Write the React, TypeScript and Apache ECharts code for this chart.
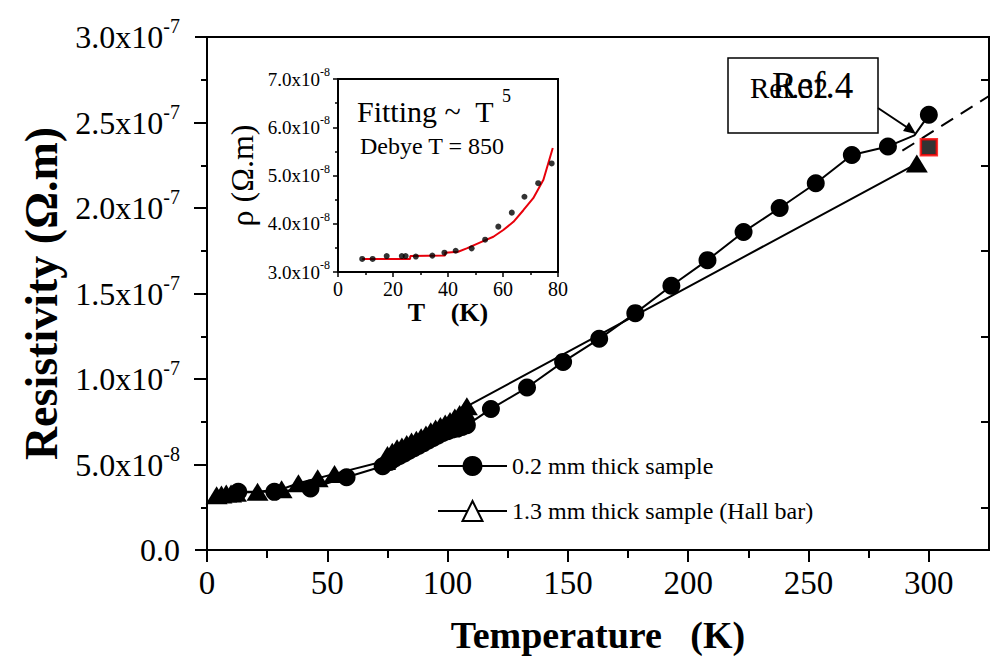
import React, { useEffect, useRef } from 'react';
import * as echarts from 'echarts';

const FONT = '"Liberation Serif", "Times New Roman", serif';

// ---- Main plot data (resistivity in units of 1e-8 Ω·m) ----
const thinName = '0.2 mm thick sample';
const thinT = [13, 28, 43, 58, 73, 76, 78, 80, 82, 84, 86, 88, 90, 92, 94, 96, 98, 100, 102, 104, 106, 108,
  118, 133, 148, 163, 178, 193, 208, 223, 238, 253, 268, 283, 294, 300];
const thinRho = [3.4, 3.4, 3.6, 4.25, 4.9, 5.15, 5.35, 5.5, 5.65, 5.8, 5.95, 6.1, 6.25, 6.4, 6.55, 6.7, 6.85, 6.95, 7.05, 7.1, 7.2, 7.3,
  8.25, 9.5, 11.0, 12.35, 13.85, 15.45, 16.95, 18.6, 20.0, 21.45, 23.1, 23.6, 24.25, 25.45];
const thinNoMarkerT = [294];

const hallName = '1.3 mm thick sample (Hall bar)';
const hallT = [4, 6, 8, 10, 12, 21, 31, 38, 46, 53, 74, 75, 77, 79, 81, 83, 85, 87, 89, 91, 93, 95, 97, 99, 101, 103, 105, 107, 108, 295];
const hallRho = [3.2, 3.25, 3.3, 3.3, 3.35, 3.4, 3.55, 3.9, 4.2, 4.45, 5.2, 5.55, 5.75, 5.95, 6.05, 6.2, 6.35, 6.45, 6.6, 6.75, 6.95, 7.1, 7.25, 7.4, 7.55, 7.75, 7.95, 8.15, 8.4, 22.6];

const refT = [300];
const refRho = [23.55];

const dashT = [289, 325];
const dashRho = [23.35, 26.55];

// ---- Inset data ----
const insetT = [8.8, 12.6, 17.7, 23.2, 24.6, 28.3, 34.3, 38.7, 42.8, 48.6, 53.5, 58.3, 63.2, 67.8, 72.8, 77.7];
const insetRho = [3.27, 3.27, 3.33, 3.33, 3.33, 3.32, 3.34, 3.4, 3.44, 3.49, 3.67, 3.94, 4.23, 4.56, 4.84, 5.25];
const fitT = [8.8, 26.2, 26.3, 38.9, 39.0, 43.7, 46.8, 52.8, 56.5, 60.1, 63.8, 67.4, 71.0, 74.7, 78.1];
const fitRho = [3.27, 3.27, 3.33, 3.34, 3.4, 3.42, 3.49, 3.64, 3.73, 3.87, 4.04, 4.28, 4.53, 4.91, 5.57];

// ---- Ticks ----
const mainXMajor = [0, 50, 100, 150, 200, 250, 300];
const mainXMinor = [25, 75, 125, 175, 225, 275];
const mainXTop = [25, 50, 75, 100, 125, 150, 175, 200, 225, 250, 275, 300];
const mainYMajor = [0, 5, 10, 15, 20, 25, 30];
const mainYMinor = [2.5, 7.5, 12.5, 17.5, 22.5, 27.5];
const mainYRightMajor = [5, 10, 15, 20, 25];
const insetXMajor = [0, 20, 40, 60, 80];
const insetXMinor = [10, 30, 50, 70];
const insetYMajor = [3, 4, 5, 6, 7];
const insetYMinor = [3.5, 4.5, 5.5, 6.5];

const sci = (v: number) => {
  if (Math.abs(v) < 1e-9) return '{m|0.0}';
  const [m, e] = (v * 1e-8).toExponential(1).split('e');
  return `{m|${m}x10}{s|${e.replace('+', '')}}`;
};

const BLACK = '#000';

function tickAxis(extra: any) {
  return {
    type: 'value',
    axisLine: { show: false },
    splitLine: { show: false },
    axisLabel: { show: false },
    ...extra,
  };
}

export default function App() {
  const ref = useRef<HTMLDivElement>(null);
  useEffect(() => {
    if (!ref.current) return;
    const chart = echarts.init(ref.current, undefined, { renderer: 'svg' });
    const thinData = thinT.map((t, i) =>
      thinNoMarkerT.includes(t) ? { value: [t, thinRho[i]], symbol: 'none' } : [t, thinRho[i]]
    );
    const option: any = {
      animation: false,
      backgroundColor: '#fff',
      textStyle: { fontFamily: FONT, color: BLACK },
      grid: [
        { left: 207, top: 37, width: 782, height: 513, show: true, borderColor: BLACK, borderWidth: 2, backgroundColor: 'transparent' },
        { left: 338, top: 79, width: 220, height: 193, show: true, borderColor: BLACK, borderWidth: 2, backgroundColor: '#fff', z: 5 },
      ],
      legend: {
        data: [
          { name: thinName },
          { name: hallName, itemStyle: { color: '#fff', borderColor: BLACK, borderWidth: 2 } },
        ],
        orient: 'vertical',
        left: 437,
        top: 454,
        padding: 0,
        itemWidth: 69,
        itemHeight: 25,
        itemGap: 21,
        selectedMode: false,
        textStyle: { fontFamily: FONT, fontSize: 24, color: BLACK },
      },
      xAxis: [
        tickAxis({
          gridIndex: 0, position: 'bottom', min: 0, max: 325, interval: 50,
          axisTick: { show: true, inside: false, length: 12, customValues: mainXMajor, lineStyle: { color: BLACK, width: 2 } },
          axisLabel: { show: true, customValues: mainXMajor, fontFamily: FONT, fontSize: 33, color: BLACK, margin: 16 },
          name: 'Temperature   (K)', nameLocation: 'middle', nameGap: 66,
          nameTextStyle: { fontFamily: FONT, fontSize: 38, fontWeight: 'bold', color: BLACK },
        }),
        tickAxis({
          gridIndex: 0, position: 'bottom', min: 0, max: 325, interval: 25,
          axisTick: { show: true, inside: false, length: 6, customValues: mainXMinor, lineStyle: { color: BLACK, width: 2 } },
        }),
        tickAxis({
          gridIndex: 0, position: 'top', min: 0, max: 325, interval: 25,
          axisTick: { show: true, inside: true, length: 8, customValues: mainXTop, lineStyle: { color: BLACK, width: 2 } },
        }),
        tickAxis({
          gridIndex: 1, position: 'bottom', min: 0, max: 80, interval: 20,
          axisTick: { show: true, inside: false, length: 5, customValues: insetXMajor, lineStyle: { color: BLACK, width: 1.5 } },
          axisLabel: { show: true, customValues: insetXMajor, fontFamily: FONT, fontSize: 20, color: BLACK, margin: 7 },
          name: 'T    (K)', nameLocation: 'middle', nameGap: 25,
          nameTextStyle: { fontFamily: FONT, fontSize: 26, fontWeight: 'bold', color: BLACK },
        }),
        tickAxis({
          gridIndex: 1, position: 'bottom', min: 0, max: 80, interval: 10,
          axisTick: { show: true, inside: false, length: 3, customValues: insetXMinor, lineStyle: { color: BLACK, width: 1.5 } },
        }),
      ],
      yAxis: [
        tickAxis({
          gridIndex: 0, position: 'left', min: 0, max: 30, interval: 5,
          axisTick: { show: true, inside: false, length: 12, customValues: mainYMajor, lineStyle: { color: BLACK, width: 2 } },
          axisLabel: {
            show: true, customValues: mainYMajor, margin: 27, formatter: sci,
            rich: {
              m: { fontFamily: FONT, fontSize: 32, color: BLACK, lineHeight: 42 },
              s: { fontFamily: FONT, fontSize: 20, color: BLACK, lineHeight: 14, verticalAlign: 'top' },
            },
          },
          name: 'Resistivity (Ω.m)', nameLocation: 'middle', nameGap: 140,
          nameTextStyle: { fontFamily: FONT, fontSize: 46, fontWeight: 'bold', color: BLACK },
        }),
        tickAxis({
          gridIndex: 0, position: 'left', min: 0, max: 30, interval: 2.5,
          axisTick: { show: true, inside: false, length: 6, customValues: mainYMinor, lineStyle: { color: BLACK, width: 2 } },
        }),
        tickAxis({
          gridIndex: 0, position: 'right', min: 0, max: 30, interval: 5,
          axisTick: { show: true, inside: true, length: 13, customValues: mainYRightMajor, lineStyle: { color: BLACK, width: 2 } },
        }),
        tickAxis({
          gridIndex: 0, position: 'right', min: 0, max: 30, interval: 2.5,
          axisTick: { show: true, inside: true, length: 8, customValues: mainYMinor, lineStyle: { color: BLACK, width: 2 } },
        }),
        tickAxis({
          gridIndex: 1, position: 'left', min: 3, max: 7, interval: 1,
          axisTick: { show: true, inside: false, length: 5, customValues: insetYMajor, lineStyle: { color: BLACK, width: 1.5 } },
          axisLabel: {
            show: true, customValues: insetYMajor, margin: 8, formatter: sci,
            rich: {
              m: { fontFamily: FONT, fontSize: 19, color: BLACK, lineHeight: 26 },
              s: { fontFamily: FONT, fontSize: 12, color: BLACK, lineHeight: 9, verticalAlign: 'top' },
            },
          },
          name: 'ρ (Ω.m)', nameLocation: 'middle', nameGap: 80,
          nameTextStyle: { fontFamily: FONT, fontSize: 32, color: BLACK },
        }),
        tickAxis({
          gridIndex: 1, position: 'left', min: 3, max: 7, interval: 0.5,
          axisTick: { show: true, inside: false, length: 3, customValues: insetYMinor, lineStyle: { color: BLACK, width: 1.5 } },
        }),
      ],
      series: [
        {
          type: 'line', name: 'dash', xAxisIndex: 0, yAxisIndex: 0,
          data: dashT.map((t, i) => [t, dashRho[i]]), symbol: 'none',
          lineStyle: { color: BLACK, width: 2, type: [14, 9] }, z: 2,
        },
        {
          type: 'line', name: hallName, xAxisIndex: 0, yAxisIndex: 0,
          data: hallT.map((t, i) => [t, hallRho[i]]),
          symbol: 'triangle', symbolSize: [22, 18],
          itemStyle: { color: BLACK }, lineStyle: { color: BLACK, width: 2 }, z: 3,
        },
        {
          type: 'line', name: thinName, xAxisIndex: 0, yAxisIndex: 0,
          data: thinData, symbol: 'circle', symbolSize: 18,
          itemStyle: { color: BLACK }, lineStyle: { color: BLACK, width: 2 }, z: 4,
        },
        {
          type: 'scatter', name: 'Ref', xAxisIndex: 0, yAxisIndex: 0,
          data: refT.map((t, i) => [t, refRho[i]]), symbol: 'rect', symbolSize: 16,
          itemStyle: { color: BLACK, borderColor: '#ff0000', borderWidth: 2.5 }, z: 5,
        },
        {
          type: 'line', name: 'fit', xAxisIndex: 3, yAxisIndex: 4,
          data: fitT.map((t, i) => [t, fitRho[i]]), symbol: 'none',
          lineStyle: { color: '#e8000b', width: 2 }, z: 6,
        },
        {
          type: 'scatter', name: 'inset', xAxisIndex: 3, yAxisIndex: 4,
          data: insetT.map((t, i) => [t, insetRho[i]]), symbolSize: 6,
          itemStyle: { color: BLACK }, z: 7,
        },
      ],
      graphic: [
        { type: 'rect', shape: { x: 728, y: 58, width: 150, height: 75 }, style: { fill: '#fff', stroke: BLACK, lineWidth: 1.5 }, z: 10 },
        { type: 'text', x: 750, y: 88, style: { text: 'Ref.32', font: `29px ${FONT}`, fill: BLACK, verticalAlign: 'middle' }, z: 11 },
        { type: 'text', x: 772, y: 85, style: { text: 'Ref.4', font: `37px ${FONT}`, fill: BLACK, verticalAlign: 'middle' }, z: 11 },
        { type: 'line', shape: { x1: 878, y1: 108, x2: 908, y2: 128 }, style: { stroke: BLACK, lineWidth: 2 }, z: 11 },
        { type: 'polygon', shape: { points: [[916, 134], [903, 131], [909, 122]] }, style: { fill: BLACK }, z: 11 },
        { type: 'text', x: 357, y: 111, style: { text: 'Fitting ~  T', font: `30px ${FONT}`, fill: BLACK, verticalAlign: 'middle' }, z: 20 },
        { type: 'text', x: 502, y: 96, style: { text: '5', font: `18px ${FONT}`, fill: BLACK, verticalAlign: 'middle' }, z: 20 },
        { type: 'text', x: 360, y: 146, style: { text: 'Debye T = 850', font: `24px ${FONT}`, fill: BLACK, verticalAlign: 'middle' }, z: 20 },
      ],
    };
    chart.setOption(option);
    return () => chart.dispose();
  }, []);
  return <div ref={ref} style={{ position: 'absolute', left: 0, top: 0, width: 994, height: 660 }} />;
}
